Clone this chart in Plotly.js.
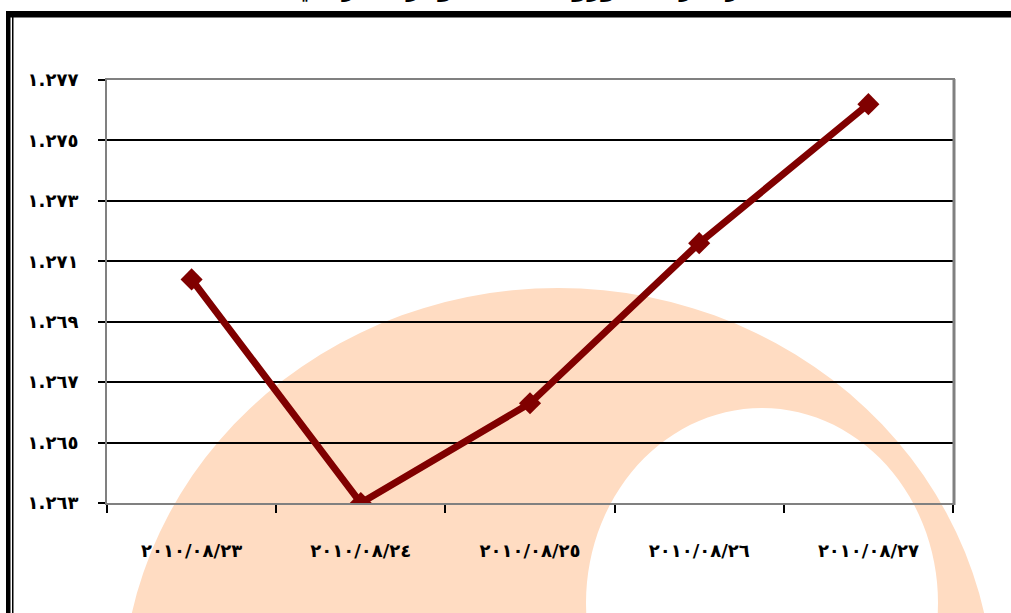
<!DOCTYPE html>
<html>
<head>
<meta charset="utf-8">
<script src="https://cdn.plot.ly/plotly-3.0.1.min.js"></script>
<style>html,body{margin:0;padding:0;background:#fff;}#chart{width:1011px;height:613px;}</style>
</head>
<body>
<div id="chart"></div>
<script>
// Data
const categories = ["٢٠١٠/٠٨/٢٣", "٢٠١٠/٠٨/٢٤", "٢٠١٠/٠٨/٢٥", "٢٠١٠/٠٨/٢٦", "٢٠١٠/٠٨/٢٧"];
const rates = [1.2704, 1.2630, 1.2663, 1.2716, 1.2762];
const yTickVals = [1.263, 1.265, 1.267, 1.269, 1.271, 1.273, 1.275, 1.277];
const yTickText = ["١.٢٦٣", "١.٢٦٥", "١.٢٦٧", "١.٢٦٩", "١.٢٧١", "١.٢٧٣", "١.٢٧٥", "١.٢٧٧"];
const titleText = "سعر صرف اليورو مقابل الدولار الأمريكي";

// pixel -> paper helpers for decorative frame/watermark
const L = 107, R = 953, T = 80, B = 503;
const px = v => (v - L) / (R - L);
const py = v => (B - v) / (B - T);

function ellipsePts(cx, cy, rx, ry, n) {
  let s = "";
  for (let i = 0; i <= n; i++) {
    const a = 2 * Math.PI * i / n;
    const x = px(cx + rx * Math.cos(a)), y = py(cy + ry * Math.sin(a));
    s += (i === 0 ? "M " : " L ") + x.toFixed(5) + " " + y.toFixed(5);
  }
  return s + " Z";
}

const wm = "rgb(255,220,194)";
const shapes = [
  // watermark ring
  {type: "path", xref: "paper", yref: "paper", layer: "below",
   path: ellipsePts(558, 700, 436, 412, 120) + " " + ellipsePts(762, 603, 176, 195, 120),
   fillrule: "evenodd", fillcolor: wm, line: {width: 0}},
  // right frame slightly thicker
  {type: "line", xref: "paper", yref: "paper", layer: "above",
   x0: px(954), x1: px(954), y0: py(79), y1: py(505), line: {color: "#808080", width: 3}},
  // frame: top thick bar
  {type: "rect", xref: "paper", yref: "paper", layer: "above",
   x0: px(6), x1: px(1030), y0: py(11), y1: py(17.5), fillcolor: "#000", line: {width: 0}},
  // left thick bar
  {type: "rect", xref: "paper", yref: "paper", layer: "above",
   x0: px(6), x1: px(10.5), y0: py(11), y1: py(630), fillcolor: "#000", line: {width: 0}},
  // left thin line
  {type: "rect", xref: "paper", yref: "paper", layer: "above",
   x0: px(12), x1: px(13.5), y0: py(17), y1: py(630), fillcolor: "#000", line: {width: 0}}
];

const trace = {
  x: categories, y: rates, type: "scatter", mode: "lines+markers",
  line: {color: "#800000", width: 7},
  marker: {symbol: "diamond", size: 17, color: "#800000"},
  hoverinfo: "x+y"
};

const xFont = {family: "DejaVu Sans", size: 18, color: "#000", weight: "bold"};
const yFont = {family: "DejaVu Sans", size: 18, color: "#000", weight: "bold"};

const layout = {
  width: 1011, height: 613,
  margin: {l: L, r: 1011 - R, t: T, b: 613 - B},
  paper_bgcolor: "#fff", plot_bgcolor: "rgba(0,0,0,0)",
  showlegend: false,
  xaxis: {
    type: "category", range: [-0.5, 4.5], tickson: "boundaries",
    showgrid: false, showline: true, linecolor: "#808080", linewidth: 2, mirror: true,
    ticks: "outside", ticklen: 8, tickwidth: 2, tickcolor: "#000",
    tickfont: xFont, ticklabelstandoff: 30, zeroline: false, fixedrange: true
  },
  yaxis: {
    range: [1.263, 1.277], tickvals: yTickVals, ticktext: yTickText,
    showgrid: true, gridcolor: "#000", gridwidth: 2,
    showline: true, linecolor: "#808080", linewidth: 2, mirror: true,
    ticks: "outside", ticklen: 7, tickwidth: 2, tickcolor: "#000",
    tickfont: yFont, ticklabelstandoff: 16, zeroline: false, fixedrange: true
  },
  shapes: shapes,
  annotations: [{
    text: titleText, xref: "paper", yref: "paper", x: px(536), y: py(-13),
    xanchor: "center", yanchor: "middle", showarrow: false,
    font: {family: "DejaVu Sans", size: 24, color: "#000", weight: "bold"}
  }]
};

Plotly.newPlot("chart", [trace], layout, {displayModeBar: false, staticPlot: true});
</script>
</body>
</html>
